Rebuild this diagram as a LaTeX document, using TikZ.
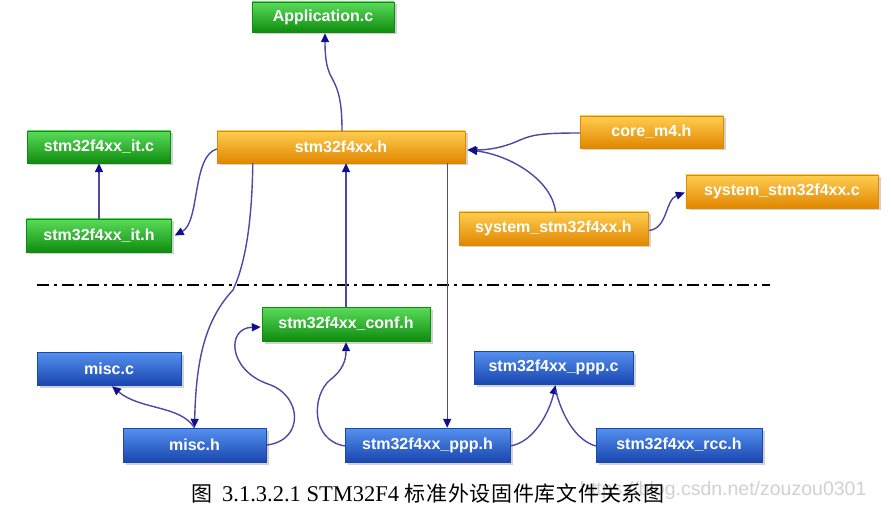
\documentclass[tikz,border=0pt]{standalone}
\usepackage{fontspec}
\setmainfont{Liberation Serif}
\newfontfamily\boxfont{Liberation Sans}
\newfontfamily\cjk{Noto Sans CJK SC}
\usetikzlibrary{arrows.meta,shadows,calc}
\definecolor{linec}{RGB}{78,72,165}
\definecolor{arrc}{RGB}{16,16,140}
\definecolor{gtop}{RGB}{90,220,90}
\definecolor{gmid}{RGB}{30,190,30}
\definecolor{gbot}{RGB}{15,140,15}
\definecolor{otop}{RGB}{255,205,80}
\definecolor{omid}{RGB}{250,165,10}
\definecolor{obot}{RGB}{225,135,0}
\definecolor{btop}{RGB}{85,145,240}
\definecolor{bmid}{RGB}{40,105,215}
\definecolor{bbot}{RGB}{25,70,175}
\newcommand\cc[1]{\makebox[21.7pt][l]{#1}}
\tikzset{
  filebox/.style={rectangle, inner sep=0pt, text=white,
    font=\boxfont\bfseries\fontsize{16}{18}\selectfont,
    drop shadow={shadow xshift=2.5pt, shadow yshift=-2.5pt, opacity=0.35}},
  greenbox/.style={filebox, draw=gbot, top color=gtop, middle color=gmid, bottom color=gbot},
  orangebox/.style={filebox, draw=obot, top color=otop, middle color=omid, bottom color=obot},
  bluebox/.style={filebox, draw=bbot, top color=btop, middle color=bmid, bottom color=bbot},
  arr/.style={draw=linec, line width=1.4pt, -{Triangle[length=9pt,width=8pt,color=arrc,fill=arrc]}},
  plainline/.style={draw=linec, line width=1.4pt},
}
\begin{document}
\begin{tikzpicture}[x=1pt,y=-1pt]
\useasboundingbox[fill=white] (0,0) rectangle (891,521);

% boxes
\node[greenbox, minimum width=142pt, minimum height=30pt] (app) at (323,17) {Application.c};
\node[orangebox, minimum width=248pt, minimum height=32pt] (main) at (341,147) {stm32f4xx.h};
\node[greenbox, minimum width=143pt, minimum height=32pt] (itc) at (99,147) {stm32f4xx\_it.c};
\node[greenbox, minimum width=145pt, minimum height=33pt] (ith) at (99,235.5) {stm32f4xx\_it.h};
\node[orangebox, minimum width=143pt, minimum height=32pt] (core) at (651.5,132) {core\_m4.h};
\node[orangebox, minimum width=192pt, minimum height=33pt] (sysc) at (782,191.5) {system\_stm32f4xx.c};
\node[orangebox, minimum width=189pt, minimum height=33pt] (sysh) at (553.5,228.5) {system\_stm32f4xx.h};
\node[greenbox, minimum width=168pt, minimum height=34pt] (conf) at (346,324) {stm32f4xx\_conf.h};
\node[bluebox, minimum width=144pt, minimum height=33pt] (miscc) at (109,368.5) {misc.c};
\node[bluebox, minimum width=143pt, minimum height=34pt] (misch) at (194.5,445) {misc.h};
\node[bluebox, minimum width=165pt, minimum height=34pt] (ppph) at (427.5,445) {stm32f4xx\_ppp.h};
\node[bluebox, minimum width=159pt, minimum height=33pt] (pppc) at (553.5,367.5) {stm32f4xx\_ppp.c};
\node[bluebox, minimum width=166pt, minimum height=34pt] (rcch) at (679,445) {stm32f4xx\_rcc.h};

% separator
\coordinate (sepL) at (37,285);
\coordinate (sepR) at (770,285);
\draw[line width=2.5pt, dash pattern=on 12pt off 5pt on 3pt off 5pt] (sepL) -- (sepR);

% connectors
\draw[arr] ($(main.north)+(1,0)$) .. controls (342,100) and (338,90) .. (333,80)
  .. controls (327,70) and (325,60) .. ($(app.south)+(2,1)$);
\draw[arr] (ith.north) -- (ith.north |- itc.south);
\draw[arr] ($(main.west)+(0,2)$) .. controls (192,156) and (200,222) .. ($(ith.east)+(3,0)$);
\draw[arr] ($(main.south west)+(36,0)$) .. controls (252,220) and (246,262) .. (233,290)
  .. controls (205,320) and (196,360) .. (misch.north);
\draw[arr] (conf.north) -- (conf.north |- main.south);
\coordinate (pv) at ($(main.south east)+(-18,0)$);
\draw[arr] (pv) -- (pv |- ppph.north);
\draw[arr] ($(core.west)+(0,1)$) .. controls (540,133) and (532,135) .. (520,140)
  .. controls (505,147) and (490,150) .. ($(main.east)+(2,3)$);
\draw[arr] ($(sysh.north)+(2,0)$) .. controls (552,180) and (510,155) .. ($(main.east)+(3,3)$);
\draw[arr] ($(sysh.east)+(1,2)$) .. controls (668,228) and (665,200) .. ($(sysc.west)+(-1,1)$);
\draw[arr] (misch.north) .. controls (180,405) and (140,410) .. ($(miscc.south)+(3,1)$);
\draw[arr] ($(misch.east)+(1,0)$) .. controls (305,440) and (302,395) .. (268,384)
  .. controls (228,370) and (226,328) .. ($(conf.west)+(-1,3)$);
\draw[arr] ($(ppph.west)+(0,1)$) .. controls (310,440) and (312,395) .. (330,380)
  .. controls (343,370) and (346,360) .. ($(conf.south)+(0,1)$);
\draw[arr] ($(ppph.east)+(0,1)$) .. controls (535,442) and (550,410) .. ($(pppc.south)+(2,1)$);
\draw[plainline] ($(rcch.west)+(0,1)$) .. controls (575,440) and (562,415) .. ($(pppc.south)+(2,6)$);

% caption
\node[anchor=base west, inner sep=0pt, text=black!18, font=\boxfont\fontsize{19.5}{22}\selectfont] (wm) at (580,495) {https://blog.csdn.net/zouzou0301};
\node[anchor=base west, inner sep=0pt, font=\fontsize{22.5}{26}\selectfont] (cap) at (191,501)
  {{\cjk\fontsize{21}{26}\selectfont 图}\hspace{10pt}3.1.3.2.1 STM32F4 {\cjk\fontsize{21}{26}\selectfont\cc{标}\cc{准}\cc{外}\cc{设}\cc{固}\cc{件}\cc{库}\cc{文}\cc{件}\cc{关}\cc{系}图}};
\end{tikzpicture}
\end{document}
